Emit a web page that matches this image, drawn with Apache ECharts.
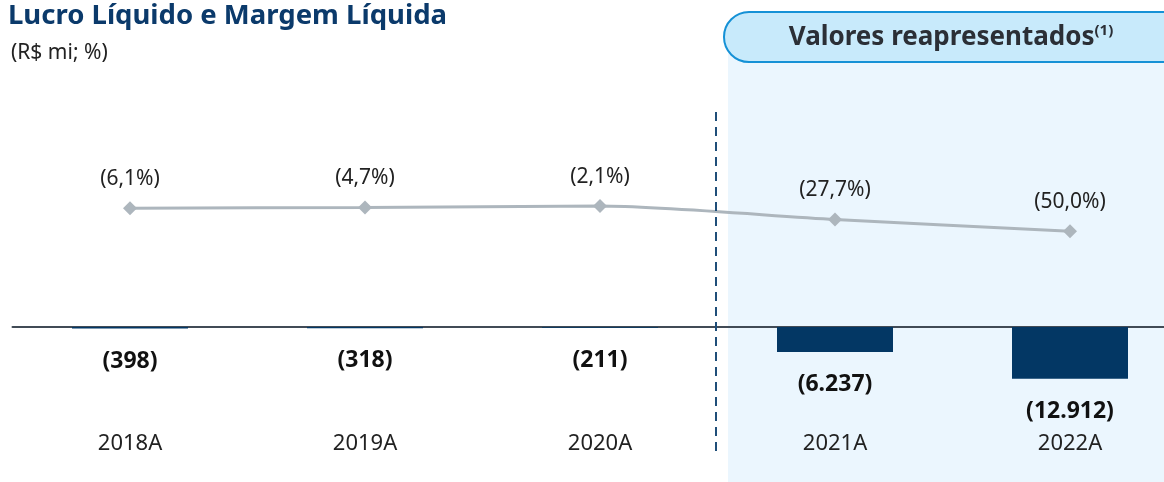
<!DOCTYPE html>
<html>
<head>
<meta charset="utf-8">
<title>Lucro Líquido e Margem Líquida</title>
<script src="https://cdn.jsdelivr.net/npm/echarts@6/dist/echarts.min.js"></script>
<style>
  html, body { margin: 0; padding: 0; background: #ffffff; }
  #chart { width: 1164px; height: 482px; }
</style>
</head>
<body>
<div id="chart"></div>
<script>
// Anos
const categories = ['2018A', '2019A', '2020A', '2021A', '2022A'];
// Lucro líquido (R$ mi)
const netIncome = [-398, -318, -211, -6237, -12912];
// Margem líquida (%)
const netMargin = [-6.1, -4.7, -2.1, -27.7, -50.0];

const FONT = '"Noto Sans", "Open Sans", sans-serif';

function fmtThousands(v) {
  const s = Math.abs(v).toString().replace(/\B(?=(\d{3})+(?!\d))/g, '.');
  return v < 0 ? '(' + s + ')' : s;
}
function fmtPct(v) {
  const s = Math.abs(v).toFixed(1).replace('.', ',') + '%';
  return v < 0 ? '(' + s + ')' : s;
}

const chart = echarts.init(document.getElementById('chart'), null, { renderer: 'canvas' });

chart.setOption({
  animation: false,
  textStyle: { fontFamily: FONT },
  title: [
    {
      text: 'Lucro Líquido e Margem Líquida',
      left: 3, top: -3,
      textStyle: { fontFamily: FONT, fontSize: 27.5, fontWeight: 'bold', color: '#0b3a6b' }
    },
    {
      text: '(R$ mi; %)',
      left: 6, top: 38,
      textStyle: { fontFamily: FONT, fontSize: 21, fontWeight: 'normal', color: '#222222' }
    }
  ],
  graphic: [
    {
      type: 'rect', z: -10, silent: true,
      shape: { x: 728, y: 50, width: 440, height: 440 },
      style: { fill: '#ebf6fe' }
    },
    {
      type: 'rect', z: -5, silent: true,
      shape: { x: 724, y: 12, width: 470, height: 50, r: 25 },
      style: { fill: '#c8eafb', stroke: '#1591d6', lineWidth: 2 }
    },
    {
      type: 'text', z: -4, silent: true,
      x: 951, y: 38,
      style: {
        text: '{a|Valores reapresentados}{s|(1)}',
        align: 'center', verticalAlign: 'middle',
        rich: {
          a: { fontFamily: FONT, fontSize: 26, fontWeight: 'bold', fill: '#2b2f36' },
          s: { fontFamily: FONT, fontSize: 15, fontWeight: 'bold', fill: '#2b2f36', verticalAlign: 'top', padding: [0, 0, 14, 0] }
        }
      }
    },
    {
      type: 'line', z: 10, silent: true,
      shape: { x1: 716, y1: 112, x2: 716, y2: 455 },
      style: { stroke: '#1f4e79', lineWidth: 2, lineDash: [9, 6] }
    }
  ],
  grid: { left: 12.5, width: 1175, top: 105, height: 300, outerBoundsMode: 'none', containLabel: false },
  xAxis: {
    type: 'category',
    data: categories,
    boundaryGap: true,
    axisTick: { show: false },
    axisLine: { show: true, onZero: true, lineStyle: { color: '#414b56', width: 2 } },
    axisLabel: { margin: 28, fontFamily: FONT, fontSize: 22, color: '#222222' },
    splitLine: { show: false }
  },
  yAxis: [
    { type: 'value', min: -19500, max: 55500, show: false, splitLine: { show: false } },
    { type: 'value', min: -380, max: 190, show: false, splitLine: { show: false } }
  ],
  series: [
    {
      type: 'bar',
      yAxisIndex: 0,
      data: netIncome,
      barWidth: 116,
      itemStyle: { color: '#033764' },
      label: {
        show: true,
        position: 'bottom',
        distance: 21,
        formatter: p => fmtThousands(p.value),
        fontFamily: FONT, fontSize: 23, fontWeight: 'bold', color: '#111111'
      }
    },
    {
      type: 'line',
      yAxisIndex: 1,
      data: netMargin,
      smooth: 0.25,
      symbol: 'diamond',
      symbolSize: 14,
      lineStyle: { color: '#adb6bd', width: 3 },
      itemStyle: { color: '#adb6bd' },
      label: {
        show: true,
        position: 'top',
        distance: 12,
        formatter: p => fmtPct(p.value),
        fontFamily: FONT, fontSize: 21, color: '#222222'
      },
      z: 3
    }
  ]
});
</script>
</body>
</html>
